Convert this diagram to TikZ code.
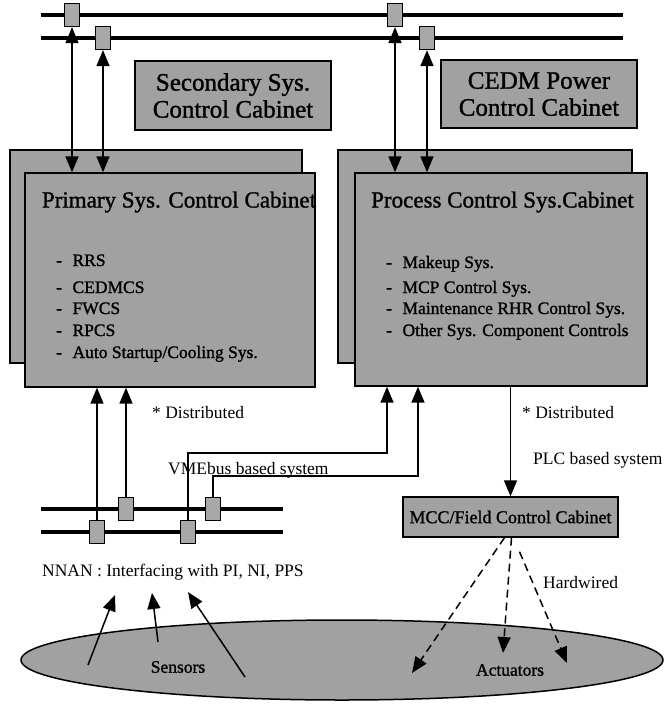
\documentclass[tikz,border=0pt]{standalone}
\usepackage{fontspec}
\setmainfont{Liberation Serif}
\newfontfamily\boxfont[FakeBold=1.3]{Liberation Serif}
\usetikzlibrary{arrows.meta,shapes.geometric,shapes.misc}
\definecolor{boxgray}{gray}{0.63}
\definecolor{nodegray}{gray}{0.66}
\begin{document}
\begin{tikzpicture}[x=1pt,y=-1pt,
  box/.style={draw=black,line width=1.4pt,fill=boxgray,inner sep=0pt},
  bus/.style={line width=3.6pt,black},
  conn/.style={line width=1.5pt,black},
  arr/.style={conn,-{Triangle[length=16pt,width=13pt]}},
  biarr/.style={conn,{Triangle[length=16pt,width=13pt]}-{Triangle[length=16pt,width=13pt]}},
  darr/.style={conn,dash pattern=on 8pt off 5pt,-{Triangle[length=16pt,width=13pt]}},
  busnode/.style={chamfered rectangle,chamfered rectangle xsep=3.5pt,chamfered rectangle ysep=3.5pt,
    draw=black,line width=1.3pt,fill=nodegray,minimum width=15pt,minimum height=23pt,inner sep=0pt},
  lbl/.style={font=\fontsize{17.5}{20}\selectfont,inner sep=0pt},
  ilbl/.style={font=\boxfont\fontsize{17.5}{20}\selectfont,inner sep=0pt},
  item/.style={font=\boxfont\fontsize{17.5}{20}\selectfont,inner sep=0pt,anchor=base west},
  ttl/.style={font=\boxfont\fontsize{23}{26}\selectfont,inner sep=0pt},
  big/.style={font=\boxfont\fontsize{25}{27}\selectfont,align=center}
]
\useasboundingbox (0,0) rectangle (665,710);

% top buses
\coordinate (ta1) at (41,15);  \coordinate (ta2) at (623,15);
\coordinate (tb1) at (41,38);  \coordinate (tb2) at (623,38);
\draw[bus] (ta1) -- (ta2);
\draw[bus] (tb1) -- (tb2);

% bottom-left buses
\coordinate (la1) at (41,509); \coordinate (la2) at (283,509);
\coordinate (lb1) at (41,532); \coordinate (lb2) at (283,532);
\draw[bus] (la1) -- (la2);
\draw[bus] (lb1) -- (lb2);

% cabinets
\node[box,minimum width=196pt,minimum height=69pt,big] (sec) at (233,95.5) {Secondary Sys.\\Control Cabinet};
\node[box,minimum width=196pt,minimum height=68pt,big] (cedm) at (539,94) {CEDM Power\\Control Cabinet};

\node[box,minimum width=292pt,minimum height=213pt] (backL) at (156,256.5) {};
\node[box,minimum width=290pt,minimum height=214pt] (frontL) at (170,280) {};
\node[box,minimum width=294pt,minimum height=213pt] (backR) at (485,256.5) {};
\node[box,minimum width=292pt,minimum height=213pt] (frontR) at (501,279.5) {};

\node[ttl] (ttlL) at (179,202) {Primary Sys. Control Cabinet};
\node[item] (iL1) at (56,266) {-\hspace{0.6em}RRS};
\node[item] (iL2) at (56,293) {-\hspace{0.6em}CEDMCS};
\node[item] (iL3) at (56,314) {-\hspace{0.6em}FWCS};
\node[item] (iL4) at (56,336) {-\hspace{0.6em}RPCS};
\node[item] (iL5) at (56,358) {-\hspace{0.6em}Auto Startup/Cooling Sys.};

\node[ttl] (ttlR) at (502.5,202) {Process Control Sys.Cabinet};
\node[item] (iR1) at (386,268) {-\hspace{0.6em}Makeup Sys.};
\node[item] (iR2) at (386,293) {-\hspace{0.6em}MCP Control Sys.};
\node[item] (iR3) at (386,314) {-\hspace{0.6em}Maintenance RHR Control Sys.};
\node[item] (iR4) at (386,336) {-\hspace{0.6em}Other Sys. Component Controls};

\node[box,minimum width=215pt,minimum height=40pt,font=\boxfont\fontsize{18}{20}\selectfont] (mcc) at (510.5,517) {MCC/Field Control Cabinet};

% field ellipse
\node[ellipse,draw=black,line width=1.5pt,fill=boxgray,minimum width=642pt,minimum height=80pt] (field) at (342,660) {};
\node[ilbl] (sens) at (178,667) {Sensors};
\node[ilbl] (act) at (510,670) {Actuators};

% bus nodes
\node[busnode] (t1) at (72,15) {};
\node[busnode] (t2) at (103,38) {};
\node[busnode] (t3) at (395,15) {};
\node[busnode] (t4) at (427,38) {};
\node[busnode] (b1) at (97,532) {};
\node[busnode] (b2) at (126,509) {};
\node[busnode] (b3) at (188,532) {};
\node[busnode] (b4) at (213,509) {};

% top connectors
\draw[biarr] (t1.south) -- (t1.south |- frontL.north);
\draw[biarr] (t2.south) -- (t2.south |- frontL.north);
\draw[biarr] (t3.south) -- (t3.south |- frontR.north);
\draw[biarr] (t4.south) -- (t4.south |- frontR.north);

% bottom connectors
\draw[arr] (b1.north) -- (b1.north |- frontL.south);
\draw[arr] (b2.north) -- (b2.north |- frontL.south);
\coordinate (c3) at (387,453);
\coordinate (c4) at (418,476);
\draw[arr] (b3.north) -- (b3.north |- c3) -- (c3) -- (c3 |- frontR.south);
\draw[arr] (b4.north) -- (b4.north |- c4) -- (c4) -- (c4 |- frontR.south);
\draw[arr] (mcc.north |- frontR.south) -- (mcc.north);

% labels
\node[lbl,anchor=west] (dl) at (152,413) {* Distributed};
\node[lbl,anchor=west] (dr) at (522,413) {* Distributed};
\node[lbl,anchor=base west] (vme) at (168,474) {VMEbus based system};
\node[lbl,anchor=west] (plc) at (533,460) {PLC based system};
\node[lbl,anchor=west] (nnan) at (42,572) {NNAN : Interfacing with PI, NI, PPS};
\node[lbl,anchor=west] (hw) at (543,583) {Hardwired};

% sensor arrows
\coordinate (s1a) at (88,665);  \coordinate (s1b) at (115,595);
\coordinate (s2a) at (158,642); \coordinate (s2b) at (152,593);
\coordinate (s3a) at (245,677); \coordinate (s3b) at (188,592);
\draw[arr] (s1a) -- (s1b);
\draw[arr] (s2a) -- (s2b);
\draw[arr] (s3a) -- (s3b);

% actuator dashed arrows
\coordinate (a1) at (412,673);
\coordinate (a2) at (503,653);
\coordinate (a3) at (567,663);
\draw[darr] ([xshift=-6pt]mcc.south) -- (a1);
\draw[darr] ([xshift=1pt]mcc.south) -- (a2);
\draw[darr] ([xshift=9pt,yshift=-14pt]mcc.south) -- (a3);
\end{tikzpicture}
\end{document}
